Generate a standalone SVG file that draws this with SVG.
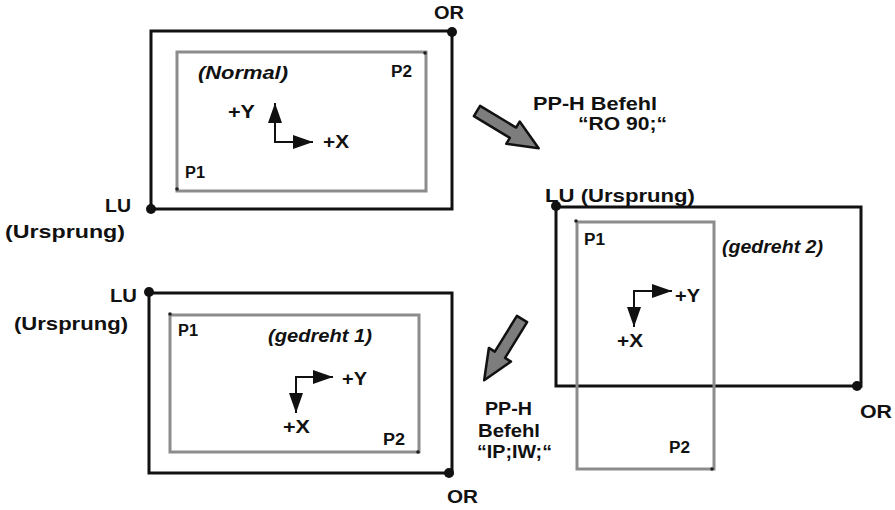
<svg xmlns="http://www.w3.org/2000/svg" width="895" height="510" viewBox="0 0 895 510">
<defs>
<style>
.outer{fill:none;stroke:#111;stroke-width:3}
.inner{fill:none;stroke:#8c8c8c;stroke-width:3}
.dot{fill:#111}
.sdot{fill:#222}
.t{font-family:"Liberation Sans",Arial,sans-serif;font-weight:bold;font-size:19px;fill:#111}
.it{font-style:italic}
.p{font-size:16px}
.ax{font-size:18px}
.axis{fill:none;stroke:#111;stroke-width:2}
.big{fill:#7d7d7d;stroke:#111;stroke-width:2.5;stroke-linejoin:round}
</style>
<marker id="ah" viewBox="0 0 20 14" refX="20" refY="7" markerWidth="20" markerHeight="14" markerUnits="userSpaceOnUse" orient="auto-start-reverse">
<path d="M0,0 L20,7 L0,14 z" fill="#111"/>
</marker>
<polygon id="bigarrow" points="0,-6 42,-6 42,-13 72,0 42,13 42,6 0,6"/>
</defs>

<g id="normal">
<rect class="outer" x="151" y="31" width="301" height="178"/>
<rect class="inner" x="177" y="52" width="249" height="139"/>
<circle class="dot" cx="452" cy="32" r="5"/>
<circle class="dot" cx="151" cy="209" r="5"/>
<circle class="sdot" cx="425" cy="53" r="1.8"/>
<circle class="sdot" cx="177" cy="189" r="1.8"/>
<text class="t" x="434" y="19" textLength="30" lengthAdjust="spacingAndGlyphs">OR</text>
<text class="t it" x="198" y="79" textLength="90" lengthAdjust="spacingAndGlyphs">(Normal)</text>
<text class="t p" x="391" y="77" textLength="21" lengthAdjust="spacingAndGlyphs">P2</text>
<text class="t ax" x="228" y="118" textLength="27" lengthAdjust="spacingAndGlyphs">+Y</text>
<text class="t ax" x="323" y="148" textLength="26" lengthAdjust="spacingAndGlyphs">+X</text>
<text class="t p" x="185" y="178" textLength="20" lengthAdjust="spacingAndGlyphs">P1</text>
<text class="t" x="105" y="212" textLength="26" lengthAdjust="spacingAndGlyphs">LU</text>
<text class="t" x="5" y="238" textLength="120" lengthAdjust="spacingAndGlyphs">(Ursprung)</text>
<path class="axis" d="M275,103 L275,142 L313,142" marker-start="url(#ah)" marker-end="url(#ah)"/>
</g>

<g id="gedreht2">
<rect class="outer" x="556" y="207" width="305" height="179"/>
<rect class="inner" x="577" y="222" width="137" height="247"/>
<circle class="dot" cx="556" cy="206" r="5"/>
<circle class="dot" cx="857" cy="386" r="5"/>
<circle class="sdot" cx="576" cy="221" r="1.8"/>
<circle class="sdot" cx="712" cy="469" r="1.8"/>
<text class="t" x="545" y="202" textLength="150" lengthAdjust="spacingAndGlyphs">LU (Ursprung)</text>
<text class="t p" x="584" y="245" textLength="21" lengthAdjust="spacingAndGlyphs">P1</text>
<text class="t it" x="722" y="253" textLength="101" lengthAdjust="spacingAndGlyphs">(gedreht 2)</text>
<text class="t ax" x="675" y="302" textLength="25" lengthAdjust="spacingAndGlyphs">+Y</text>
<text class="t ax" x="617" y="347" textLength="26" lengthAdjust="spacingAndGlyphs">+X</text>
<text class="t p" x="669" y="453" textLength="21" lengthAdjust="spacingAndGlyphs">P2</text>
<text class="t" x="860" y="418" textLength="32" lengthAdjust="spacingAndGlyphs">OR</text>
<path class="axis" d="M672,291 L634,291 L634,327" marker-start="url(#ah)" marker-end="url(#ah)"/>
</g>

<g id="gedreht1">
<rect class="outer" x="149" y="293" width="303" height="180"/>
<rect class="inner" x="170" y="315" width="249" height="137"/>
<circle class="dot" cx="149" cy="292" r="5"/>
<circle class="dot" cx="449" cy="473" r="5"/>
<circle class="sdot" cx="170" cy="314" r="1.8"/>
<circle class="sdot" cx="418" cy="452" r="1.8"/>
<text class="t" x="110" y="302" textLength="27" lengthAdjust="spacingAndGlyphs">LU</text>
<text class="t" x="14" y="330" textLength="114" lengthAdjust="spacingAndGlyphs">(Ursprung)</text>
<text class="t p" x="178" y="336" textLength="20" lengthAdjust="spacingAndGlyphs">P1</text>
<text class="t it" x="268" y="342" textLength="104" lengthAdjust="spacingAndGlyphs">(gedreht 1)</text>
<text class="t ax" x="342" y="385" textLength="25" lengthAdjust="spacingAndGlyphs">+Y</text>
<text class="t ax" x="283" y="433" textLength="27" lengthAdjust="spacingAndGlyphs">+X</text>
<text class="t p" x="383" y="445" textLength="22" lengthAdjust="spacingAndGlyphs">P2</text>
<text class="t" x="447" y="503" textLength="31" lengthAdjust="spacingAndGlyphs">OR</text>
<path class="axis" d="M333,377 L296,377 L296,413" marker-start="url(#ah)" marker-end="url(#ah)"/>
</g>

<g id="connectors">
<g id="cmd-ro90">
<use href="#bigarrow" class="big" transform="translate(477,111) rotate(31.1)"/>
<text class="t" x="533" y="110" textLength="124" lengthAdjust="spacingAndGlyphs">PP-H Befehl</text>
<text class="t" x="578" y="130" textLength="89" lengthAdjust="spacingAndGlyphs">“RO 90;“</text>
</g>
<g id="cmd-ipiw">
<use href="#bigarrow" class="big" transform="translate(522,319) rotate(121.7)"/>
<text class="t" x="485" y="415" textLength="47" lengthAdjust="spacingAndGlyphs">PP-H</text>
<text class="t" x="478" y="437" textLength="62" lengthAdjust="spacingAndGlyphs">Befehl</text>
<text class="t" x="477" y="458" textLength="75" lengthAdjust="spacingAndGlyphs">“IP;IW;“</text>
</g>
</g>
</svg>
